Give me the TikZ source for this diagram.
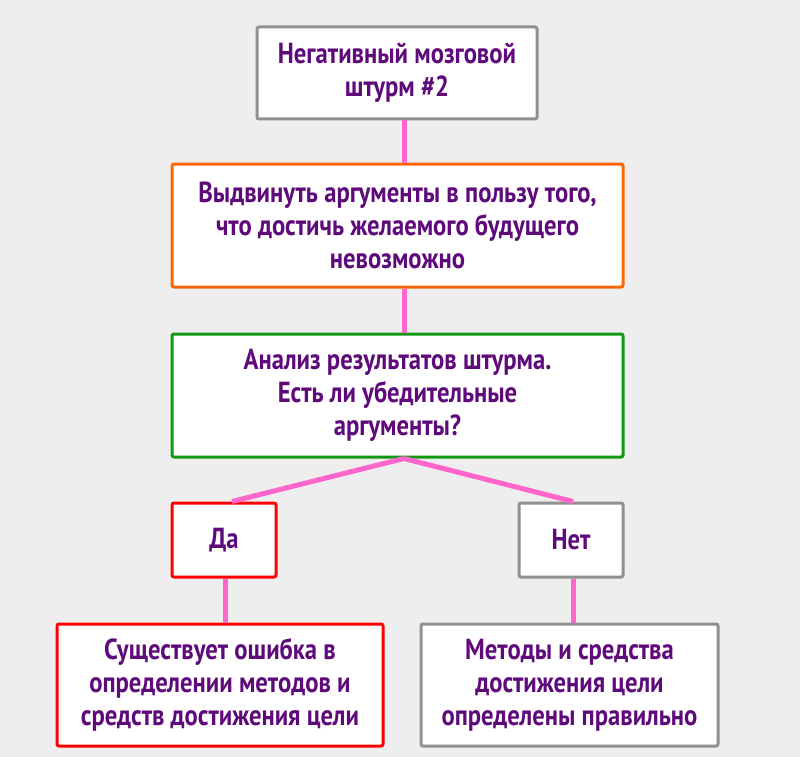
\documentclass[tikz,border=0pt]{standalone}
\usepackage{fontspec}
\newfontfamily\boxfont{PT Sans}[FakeStretch=0.85]
\usepackage{tikz}
\usetikzlibrary{calc,positioning}

\definecolor{bgcol}{HTML}{EEEEEE}
\definecolor{txtcol}{HTML}{5F0A7A}
\definecolor{linkcol}{HTML}{FF66CC}
\definecolor{greycol}{HTML}{909090}
\definecolor{orangecol}{HTML}{FF6600}
\definecolor{greencol}{HTML}{119911}
\definecolor{redcol}{HTML}{FF0000}

\begin{document}
\begin{tikzpicture}[x=1pt,y=-1pt,
    box/.style={draw=#1, line width=3pt, rounded corners=2pt, fill=white,
                inner sep=0pt, align=center, text=txtcol,
                font=\boxfont\bfseries\fontsize{29}{33}\selectfont},
    link/.style={draw=linkcol, line width=5pt}]
  \fill[bgcol] (0,0) rectangle (800,757);
  \useasboundingbox (0,0) rectangle (800,757);

  \node[box=greycol, minimum width=280pt, minimum height=92pt] (top) at (397,73)
    {Негативный мозговой\\штурм \#2};
  \node[box=orangecol, minimum width=451pt, minimum height=123pt] (args) at (397.5,225.5)
    {Выдвинуть аргументы в пользу того,\\что достичь желаемого будущего\\невозможно};
  \node[box=greencol, minimum width=451pt, minimum height=123pt] (analysis) at (397.5,395.5)
    {Анализ результатов штурма.\\Есть ли убедительные\\аргументы?};
  \node[box=redcol, minimum width=104pt, minimum height=74pt] (yes) at (224,540) {Да};
  \node[box=greycol, minimum width=104pt, minimum height=74pt] (no) at (571,540) {Нет};
  \node[box=redcol, minimum width=326pt, minimum height=122pt] (err) at (220,685)
    {Существует ошибка в\\определении методов и\\средств достижения цели};
  \node[box=greycol, minimum width=297pt, minimum height=122pt] (ok) at (569.5,685)
    {Методы и средства\\достижения цели\\определены правильно};

  % connectors
  \draw[link] ([xshift=7pt]top.south) -- ([xshift=6.5pt]args.north);
  \draw[link] ([xshift=6.5pt]args.south) -- ([xshift=6.5pt]analysis.north);
  \draw[link] ([xshift=6.5pt]analysis.south) -- ([xshift=8pt]yes.north);
  \draw[link] ([xshift=6.5pt]analysis.south) -- ([xshift=2pt]no.north);
  \draw[link] ([xshift=1.5pt]yes.south) -- ([xshift=1.5pt]yes.south |- err.north);
  \draw[link] ([xshift=2pt]no.south) -- ([xshift=2pt]no.south |- ok.north);
\end{tikzpicture}
\end{document}
